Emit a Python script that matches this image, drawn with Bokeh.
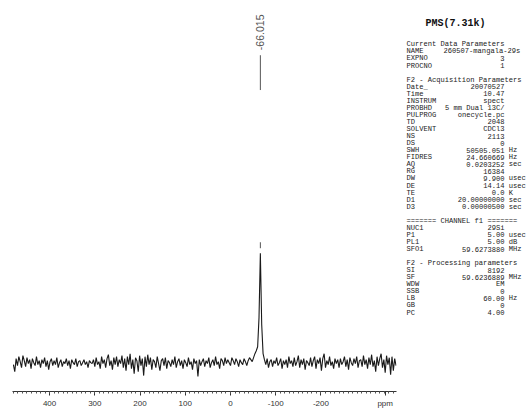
import numpy as np
from bokeh.plotting import figure
from bokeh.models import Range1d, FixedTicker
from bokeh.layouts import row
from bokeh.embed import file_html
from bokeh.resources import INLINE
from bokeh.core.properties import value

# ---- 29Si spectrum, one point every 3 ppm from 480 ppm downwards ----
ppm_start = 480.0
ppm_step = -3.0
intensity = [
    -0.2, -0.9, 0.4, -0.3, 0.6, 0.1, -0.5, 0.7, 0.2, -0.4, 0.5, -0.1, 0.3, -0.6, 0.4, 0.0, -0.3, 0.6, -0.2, 0.2,
    -0.5, 0.3, -0.1, 0.5, -0.4, 0.2, -0.7, 0.1, 0.4, -0.3, 0.2, -0.2, 0.5, -0.5, 0.0, 0.3, -0.4, 0.1, -0.1, 0.4,
    -0.3, 0.2, -0.6, 0.3, 0.0, -0.2, 0.4, -0.4, 0.1, 0.2, -0.3, 0.0, 0.3, -0.2, 0.1, -0.5, 0.2, 0.0, -0.1, 0.3,
    -0.4, 0.5, -0.2, 0.1, -0.6, 0.6, -0.1, 0.3, -0.5, 0.4, 0.8, -0.3, 0.2, -0.7, 0.5, -0.2, 0.6, -0.4, 0.3, -0.1,
    0.7, -0.5, 0.4, -0.8, 0.6, -0.2, 0.9, -0.6, 0.3, -1.1, 0.5, 0.2, -0.9, 0.7, -0.3, 0.4, -1.3, 0.6, -0.4, 0.8,
    -0.2, 0.5, -0.7, 0.3, 0.1, -0.5, 0.6, -0.1, -0.8, 0.2, 0.4, -0.3, 0.5, -0.6, 0.2, 0.0, -0.4, 0.3, -0.2, 0.6,
    -0.5, 0.1, 0.4, -0.3, 0.2, -0.6, 0.3, 0.0, -0.4, 0.5, -0.2, 0.1, -0.7, 0.4, -0.1, 0.2, -1.4, 0.3, -0.3, 0.1,
    0.4, -0.4, 0.2, -0.1, 0.5, -0.5, 0.0, 0.3, -0.3, 0.6, -0.2, 0.1, -0.6, 0.4, 0.2, -0.3, 0.5, -0.1, 0.3, 0.0,
    -0.3, 0.5, 0.2, -0.2, 0.4, 0.1, -0.4, 0.3, 0.0, -0.2, 0.4, 0.1, -0.3, 0.2, 0.5, 0.3, 0.1, 0.5, 0.9, 1.2,
    1.6, 4.5, 11.0, 3.8, 0.9, 0.3, -0.2, 0.4, -0.5, 0.1, 0.3, -0.4, 0.2, -0.1, 0.5, -0.3, 0.0, 0.4, -0.6, 0.2,
    -0.2, 0.3, -0.5, 0.6, -0.1, 0.2, -0.4, 0.5, -0.3, 0.1, 0.7, -0.5, 0.3, -0.2, 0.4, -0.7, 0.2, 0.0, -0.3, 0.5,
    -0.4, 0.2, 0.6, -0.6, 0.3, -0.1, 0.5, -0.8, 0.4, 0.9, -0.5, 0.2, -0.2, 0.6, -0.3, 0.1, -0.6, 0.4, -0.1, 0.3,
    -0.5, 0.4, -0.2, 0.1, 0.6, -0.4, 0.3, -0.7, 0.5, 0.0, -0.3, 0.4, -0.1, 0.6, -0.5, 0.2, 0.3, -0.4, 0.7, -0.2,
    0.3, -0.6, 0.5, -0.2, 0.8, -0.4, 0.2, -0.9, 0.6, -0.3, 0.4, 0.9, -0.5, 0.3, -1.0, 0.7, -0.2, 0.5, -1.2, 0.6,
    -0.8, 0.4, -0.3,
]
ppm = ppm_start + ppm_step * np.arange(len(intensity))

# picked peak
peak_ppm = -66.015
peak_label = "-66.015"

# axis ticks; the unit name sits at the right end of the scale
major_ticks = [400, 300, 200, 100, 0, -100, -200, -342]
tick_labels = ["400", "300", "200", "100", "0", "-100", "-200", "ppm"]
minor_ticks = list(range(480, -361, -10))

# ---- parameter block ----
plot_title = "PMS(7.31k)"

cur_header = "Current Data Parameters"
cur_names = ["NAME", "EXPNO", "PROCNO"]
cur_values = ["260507-mangala-29s", "3", "1"]

acq_header = "F2 - Acquisition Parameters"
acq_names = ["Date_", "Time", "INSTRUM", "PROBHD", "PULPROG", "TD", "SOLVENT", "NS", "DS",
             "SWH", "FIDRES", "AQ", "RG", "DW", "DE", "TE", "D1", "D3"]
acq_values = ["20070527", "10.47", "spect", "5 mm Dual 13C/", "onecycle.pc", "2048", "CDCl3", "2113", "0",
              "50505.051", "24.660669", "0.0203252", "16384", "9.900", "14.14", "0.0", "20.00000000", "0.00000500"]
acq_units = ["", "", "", "", "", "", "", "", "",
             "Hz", "Hz", "sec", "", "usec", "usec", "K", "sec", "sec"]

chn_header = "======= CHANNEL f1 ======="
chn_names = ["NUC1", "P1", "PL1", "SFO1"]
chn_values = ["29Si", "5.00", "5.00", "59.6273880"]
chn_units = ["", "usec", "dB", "MHz"]

proc_header = "F2 - Processing parameters"
proc_names = ["SI", "SF", "WDW", "SSB", "LB", "GB", "PC"]
proc_values = ["8192", "59.6236889", "EM", "0", "60.00", "0", "4.00"]
proc_units = ["", "MHz", "", "", "Hz", "", ""]

# ---- spectrum panel ----
INK = "#1a1a1a"
p = figure(width=400, height=410,
           x_range=Range1d(482, -367), y_range=Range1d(-2.9, 36.4),
           output_backend="svg", toolbar_location=None,
           y_axis_location=None,
           min_border_left=12, min_border_right=4, min_border_top=0, min_border_bottom=17)
p.grid.visible = False
p.outline_line_color = None
p.background_fill_color = "white"
p.border_fill_color = "white"

ax = p.xaxis[0]
ax.ticker = FixedTicker(ticks=major_ticks, minor_ticks=minor_ticks)
ax.major_label_overrides = {t: l for t, l in zip(major_ticks, tick_labels)}
ax.axis_line_color = "#333333"
ax.axis_line_width = 1
ax.major_tick_line_color = "#333333"
ax.minor_tick_line_color = "#555555"
ax.major_tick_in = 0
ax.major_tick_out = 4
ax.minor_tick_in = 0
ax.minor_tick_out = 2
ax.major_label_standoff = 3
ax.major_label_text_font = "Liberation Sans"
ax.major_label_text_font_size = "8px"
ax.major_label_text_color = "#333333"

p.line(ppm, intensity, line_width=1.1, line_color=INK)

# peak pick marker and label
p.segment(x0=[peak_ppm], y0=[11.5], x1=[peak_ppm], y1=[12.1], line_color="#555555", line_width=1)
p.segment(x0=[peak_ppm], y0=[27.4], x1=[peak_ppm], y1=[30.9], line_color="#555555", line_width=1)
p.text(x=[peak_ppm], y=[33.2], text=[peak_label], angle=np.pi / 2,
       text_align="center", text_baseline="middle",
       text_font=value("Liberation Sans"), text_font_size="10.5px", text_color="#555555")

# ---- parameter panel ----
t = figure(width=129, height=410,
           x_range=Range1d(0, 129), y_range=Range1d(410, 0),
           output_backend="svg", toolbar_location=None,
           x_axis_location=None, y_axis_location=None, min_border=0)
t.grid.visible = False
t.outline_line_color = None
t.background_fill_color = "white"
t.border_fill_color = "white"

MONO = value("Liberation Mono")
FS = "7.1px"
CW = 7.1 * 0.6    # character advance at FS
X0 = 6.0          # left edge of the block
Y0 = 46.0         # first text row
DY = 7.4          # row pitch
VAL_X = X0 + 23 * CW
UNIT_X = X0 + 24 * CW

t.text(x=[25], y=[24], text=[plot_title], text_font=MONO, text_font_size="10px",
       text_font_style="bold", text_baseline="middle", text_align="left", text_color="#111111")

headers, hy = [], []
names, ny = [], []
vals, vy = [], []
units, uy = [], []
wide_vals, wy = [], []

k = 0
def add_section(header, nm, vl, un):
    global k
    headers.append(header); hy.append(Y0 + k * DY); k += 1
    for i, n in enumerate(nm):
        yy = Y0 + k * DY
        names.append(n); ny.append(yy)
        if len(vl[i]) > 15:
            wide_vals.append(vl[i]); wy.append(yy)
        else:
            vals.append(vl[i]); vy.append(yy)
        if un[i]:
            units.append(un[i]); uy.append(yy)
        k += 1
    k += 1

add_section(cur_header, cur_names, cur_values, [""] * len(cur_names))
add_section(acq_header, acq_names, acq_values, acq_units)
add_section(chn_header, chn_names, chn_values, chn_units)
add_section(proc_header, proc_names, proc_values, proc_units)

common = dict(text_font=MONO, text_font_size=FS, text_baseline="middle", text_color="#222222")
t.text(x=[X0] * len(headers), y=hy, text=headers, text_align="left", **common)
t.text(x=[X0] * len(names), y=ny, text=names, text_align="left", **common)
t.text(x=[VAL_X] * len(vals), y=vy, text=vals, text_align="right", **common)
t.text(x=[X0 + 8.7 * CW] * len(wide_vals), y=wy, text=wide_vals, text_align="left", **common)
t.text(x=[UNIT_X] * len(units), y=uy, text=units, text_align="left", **common)

layout = row(p, t)
open("out.html", "w").write(file_html(layout, INLINE))
